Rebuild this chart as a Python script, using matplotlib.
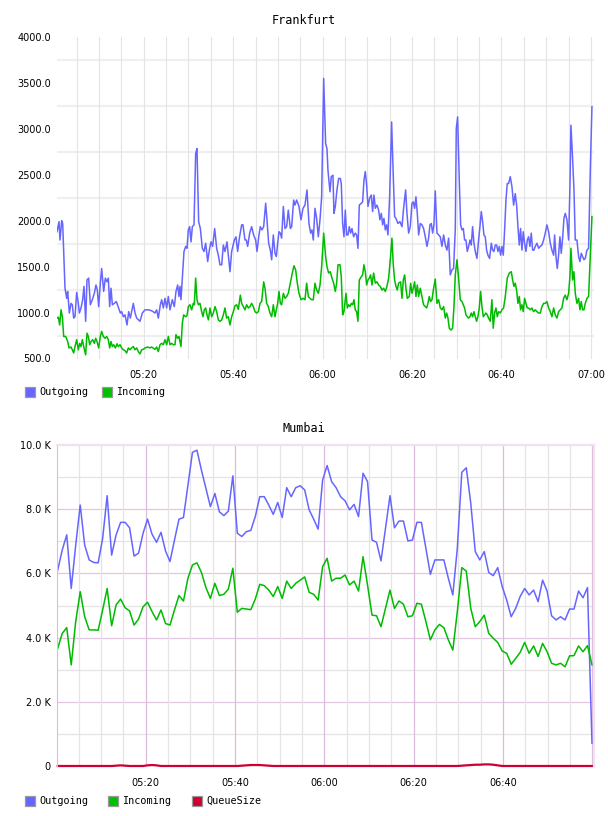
import numpy as np
import matplotlib

matplotlib.use("Agg")
import matplotlib.pyplot as plt
from matplotlib.patches import Rectangle

# ---- Frankfurt: minutes after 05:00 and values ----
fra_out_t = [0.6, 1.05, 1.27, 1.65, 1.87, 2.39, 2.77, 2.99, 3.36, 3.73, 4.03, 4.33, 4.63, 5.0, 5.37, 5.6, 5.97,
             6.34, 6.64, 7.01, 7.31, 7.68, 8.06, 8.5, 8.95, 9.32, 9.62, 9.92, 10.29, 10.59, 11.04, 11.41, 11.78,
             12.08, 12.38, 12.68, 12.98, 13.42, 13.87, 14.77, 15.06, 15.44, 15.81, 16.26, 16.63, 17.0, 17.67,
             18.05, 18.42, 19.16, 19.69, 20.28, 21.03, 21.77, 22.52, 22.89, 23.26, 23.71, 24.01, 24.38, 24.75,
             25.13, 25.5, 25.87, 26.39, 26.84, 27.21, 27.59, 27.88, 28.11, 28.33, 28.56, 29.0, 29.38, 29.67,
             29.97, 30.27, 30.57, 30.87, 31.24, 31.61, 31.91, 32.28, 32.66, 33.1, 33.48, 33.85, 34.3, 34.67,
             35.04, 35.41, 35.86, 36.31, 36.68, 37.05, 37.43, 37.8, 38.17, 38.62, 38.92, 39.29, 39.66, 40.26,
             40.63, 41.0, 41.38, 41.9, 42.2, 42.64, 42.94, 43.24, 43.69, 44.13, 44.58, 45.03, 45.33, 45.77,
             46.07, 46.44, 46.82, 47.27, 47.56, 47.94, 48.31, 48.61, 48.98, 49.35, 49.65, 49.95, 50.25, 50.55,
             50.84, 51.22, 51.59, 51.96, 52.33, 52.78, 53.08, 53.53, 53.82, 54.2, 54.72, 55.17, 55.61, 56.06,
             56.51, 56.95, 57.33, 57.63, 57.92, 58.3, 58.67, 59.04, 59.42, 59.79, 60.24, 60.68, 60.98, 61.2,
             61.65, 61.95, 62.32, 62.54, 62.84, 63.21, 63.59, 63.96, 64.18, 64.48, 64.78, 65.08, 65.38, 65.67,
             65.97, 66.27, 66.57, 66.94, 67.31, 67.61, 67.91, 68.21, 68.66, 68.95, 69.25, 69.55, 69.85, 70.15,
             70.52, 70.89, 71.19, 71.49, 71.79, 72.16, 72.53, 72.83, 73.13, 73.43, 73.72, 74.02, 74.32, 74.62,
             74.99, 75.44, 75.81, 76.11, 76.41, 76.85, 77.3, 77.75, 78.12, 78.57, 78.87, 79.24, 79.61, 79.99,
             80.28, 80.58, 80.88, 81.18, 81.48, 81.85, 82.22, 82.59, 82.97, 83.34, 83.71, 84.01, 84.31, 84.61,
             84.9, 85.2, 85.58, 85.95, 86.32, 86.69, 87.07, 87.44, 87.81, 88.19, 88.56, 88.93, 89.3, 89.68,
             89.9, 90.2, 90.57, 90.87, 91.17, 91.47, 91.76, 92.06, 92.36, 92.66, 92.96, 93.25, 93.55, 93.85,
             94.15, 94.52, 94.89, 95.19, 95.49, 95.79, 96.09, 96.38, 96.68, 96.98, 97.35, 97.73, 98.02, 98.32,
             98.62, 98.92, 99.22, 99.51, 99.81, 100.11, 100.41, 100.71, 101.01, 101.3, 101.6, 101.97, 102.35,
             102.72, 103.09, 103.39, 103.69, 103.99, 104.28, 104.58, 104.88, 105.18, 105.48, 105.78, 106.07,
             106.37, 106.67, 106.97, 107.27, 107.57, 107.94, 108.31, 108.68, 109.06, 109.43, 109.8, 110.17,
             110.55, 110.92, 111.29, 111.67, 111.89, 112.19, 112.49, 112.78, 113.08, 113.38, 113.68, 113.98,
             114.27, 114.65, 115.02, 115.32, 115.54, 115.91, 116.21, 116.51, 116.88, 117.26, 117.55, 117.85,
             118.15, 118.45, 118.75, 119.12, 119.49, 119.87, 120.24]
fra_out_v = [1880, 1990, 1790, 2000, 1970, 1265, 1155, 1230, 995, 1100, 1085, 940, 955, 1220, 1100, 995, 1050,
             1140, 1285, 905, 1355, 1375, 1085, 1140, 1210, 1300, 1245, 1065, 1320, 1480, 1230, 1375, 1335,
             1375, 1065, 1265, 1085, 1100, 1120, 995, 1010, 955, 975, 865, 1010, 940, 1100,
             995, 940, 905, 995, 1030, 1030, 1020, 995, 1030, 940, 1085, 1140, 1050, 1155,
             1050, 1175, 1030, 1140, 1065, 1230, 1300, 1175, 1285, 1140, 1320, 1665, 1720, 1700,
             1900, 1935, 1770, 1935, 1955, 2730, 2785, 1990, 1915, 1700, 1665, 1755, 1555, 1680,
             1770, 1720, 1915, 1700, 1625, 1520, 1520, 1735, 1665, 1770, 1625, 1445, 1665, 1790,
             1825, 1665, 1810, 1955, 1955, 1790, 1790, 1720, 1865, 1935, 1845, 1790, 1665, 1845,
             1935, 1900, 1935, 2190, 2010, 1755, 1680, 1575, 1845, 1645, 1610, 1755, 1880, 1865,
             1810, 2155, 1915, 1935, 2115, 1915, 1935, 2225, 2170, 2225, 2155, 2010, 2135, 2170,
             2335, 1970, 1865, 1900, 1790, 2135, 2025, 1825, 2010, 2260, 3550, 2840, 2785, 2550,
             2315, 2480, 2495, 2080, 2155, 2335, 2460, 2460, 2405, 1970, 1825, 2115, 1845, 1845,
             1935, 1865, 1915, 1825, 1865, 1845, 1700, 2170, 2190, 2205, 2440, 2535, 2390, 2155,
             2245, 2280, 2100, 2280, 2135, 2170, 2115, 2010, 2080, 1955, 2025, 1900, 1955, 1845,
             2260, 3075, 2480, 2045, 2025, 1970, 1990, 1935, 2135, 2335, 2080, 1865, 1935, 2190,
             2205, 2135, 2260, 2080, 1845, 1970, 1955, 1915, 1825, 1720, 1810, 1955, 1970, 1865,
             1955, 2325, 1865, 1845, 1825, 1720, 1845, 1735, 1680, 1810, 1410, 1465, 1480, 1915,
             3005, 3130, 2440, 1955, 1900, 1915, 1790, 1790, 1665, 1720, 1790, 1735, 1935, 1755,
             1665, 1590, 1790, 1935, 2100, 1990, 1845, 1825, 1680, 1625, 1590, 1755, 1680, 1665,
             1735, 1735, 1665, 1720, 1625, 1720, 1625, 1900, 2225, 2405, 2405, 2480, 2370,
             2170, 2295, 2170, 1935, 1735, 1915, 1680, 1880, 1755, 1665, 1790, 1825,
             1720, 1865, 1680, 1680, 1720, 1755, 1700, 1720, 1735, 1790, 1865, 1955,
             1880, 1755, 1680, 1625, 1845, 1610, 1480, 1625, 1825, 1645, 1810, 2025,
             2080, 2010, 1790, 2370, 3040, 2680, 2350, 1790, 1790, 1610, 1555, 1645,
             1610, 1575, 1590, 1680, 1700, 2550, 3240]

fra_in_t = [0.6, 0.9, 1.2, 1.5, 1.8, 2.1, 2.54, 2.99, 3.29, 3.73, 4.03, 4.33, 4.63, 5.0, 5.37, 5.67, 5.97, 6.27,
            6.64, 7.01, 7.31, 7.61, 7.91, 8.21, 8.58, 8.95, 9.25, 9.55, 9.92, 10.29, 10.59, 10.96, 11.34, 11.71,
            12.08, 12.38, 12.68, 12.98, 13.28, 13.65, 14.02, 14.32, 14.69, 15.06, 15.44, 15.81, 16.18, 16.55,
            16.93, 17.3, 17.67, 18.05, 18.42, 18.79, 19.16, 19.54, 19.91, 20.28, 20.88, 21.4, 21.77, 22.22,
            22.52, 22.89, 23.26, 23.64, 24.01, 24.38, 24.75, 25.13, 25.5, 25.87, 26.24, 26.62, 26.99, 27.21,
            27.59, 27.88, 28.33, 28.63, 28.93, 29.38, 29.67, 29.97, 30.34, 30.72, 31.09, 31.31, 31.61, 31.91,
            32.21, 32.58, 32.95, 33.25, 33.55, 33.85, 34.15, 34.45, 34.82, 35.19, 35.56, 35.94, 36.31, 36.68,
            37.05, 37.43, 37.8, 38.17, 38.54, 38.92, 39.29, 39.66, 40.04, 40.41, 40.78, 41.15, 41.6, 41.9,
            42.27, 42.64, 43.02, 43.39, 43.76, 44.13, 44.51, 44.88, 45.25, 45.63, 46.0, 46.37, 46.82, 47.12,
            47.49, 47.86, 48.23, 48.61, 48.98, 49.35, 49.65, 49.95, 50.25, 50.55, 50.84, 51.22, 51.59, 51.96,
            52.33, 52.78, 53.23, 53.6, 53.97, 54.35, 54.72, 55.17, 55.61, 56.06, 56.43, 56.81, 57.18, 57.55,
            57.92, 58.3, 58.67, 59.04, 59.42, 59.79, 60.24, 60.68, 60.98, 61.35, 61.72, 62.1, 62.47, 62.84,
            63.14, 63.44, 63.89, 64.18, 64.48, 64.78, 65.23, 65.53, 65.82, 66.12, 66.42, 66.72, 67.02, 67.31,
            67.61, 67.91, 68.21, 68.66, 68.95, 69.25, 69.55, 69.85, 70.15, 70.44, 70.74, 71.04, 71.41, 71.79,
            72.16, 72.53, 72.9, 73.28, 73.65, 74.02, 74.39, 74.77, 75.14, 75.51, 75.81, 76.11, 76.41, 76.71,
            77.0, 77.45, 77.75, 78.05, 78.35, 78.64, 78.94, 79.39, 79.69, 79.99, 80.28, 80.58, 80.88, 81.18,
            81.48, 81.85, 82.22, 82.59, 82.97, 83.27, 83.56, 83.86, 84.16, 84.46, 84.83, 85.2, 85.58, 85.95,
            86.32, 86.69, 87.07, 87.44, 87.74, 88.04, 88.33, 88.71, 89.08, 89.38, 89.68, 90.05, 90.42, 90.79,
            91.17, 91.47, 91.76, 92.06, 92.36, 92.66, 92.96, 93.25, 93.55, 93.85, 94.15, 94.45, 94.74, 95.04,
            95.34, 95.64, 95.94, 96.24, 96.53, 96.83, 97.13, 97.5, 97.87, 98.17, 98.47, 98.77, 99.07, 99.37,
            99.74, 100.11, 100.48, 100.86, 101.3, 101.75, 102.2, 102.5, 102.79, 103.09, 103.39, 103.69, 103.99,
            104.28, 104.58, 104.88, 105.18, 105.48, 105.78, 106.07, 106.45, 106.82, 107.19, 107.57, 107.94,
            108.31, 108.68, 109.06, 109.43, 109.8, 110.17, 110.55, 110.92, 111.29, 111.67, 112.04, 112.41,
            112.78, 113.16, 113.53, 113.9, 114.27, 114.65, 115.02, 115.32, 115.54, 115.91, 116.21, 116.51,
            116.88, 117.26, 117.55, 117.85, 118.15, 118.45, 118.75, 119.12, 119.49, 119.87, 120.24]
fra_in_v = [940, 950, 865, 1030, 955, 740, 740, 685, 615, 625, 595, 560, 630, 705, 595, 665, 630, 705,
            615, 540, 775, 740, 650, 685, 705, 665, 720, 685, 615, 740, 795, 740, 720, 740,
            705, 615, 685, 630, 650, 615, 660, 630, 650, 615, 595, 585, 560, 615,
            595, 615, 630, 595, 615, 575, 550, 595, 600, 615, 625, 615, 625, 610,
            600, 625, 575, 650, 665, 650, 705, 650, 740, 650, 665, 650, 650, 760,
            720, 740, 630, 885, 975, 955, 965, 1065, 1085, 1030, 1100, 1085, 1375, 1140,
            1085, 1100, 1010, 955, 1030, 1050, 975, 920, 1050, 955, 995, 1065, 1010, 920,
            905, 920, 975, 1050, 940, 955, 865, 955, 1010, 1075, 1085, 1035, 1190, 1100,
            1065, 1030, 1085, 1050, 1065, 1100, 1065, 1010, 995, 1010, 1100, 1120, 1335, 1265,
            1100, 1065, 995, 955, 1085, 955, 1030, 1100, 1230, 1100, 1085, 1210, 1155, 1175,
            1210, 1320, 1430, 1510, 1465, 1320, 1210, 1140, 1155, 1140, 1320, 1175, 1155, 1140,
            1140, 1320, 1245, 1210, 1300, 1500, 1865, 1610, 1500, 1430, 1445, 1375, 1320, 1230,
            1320, 1520, 1520, 1390, 975, 1010, 1210, 1050, 1085, 1065, 1100, 1085, 1140, 1030,
            1010, 905, 1355, 1390, 1410, 1520, 1445, 1300, 1355, 1375, 1410, 1300, 1430, 1320,
            1335, 1300, 1285, 1245, 1265, 1230, 1285, 1375, 1575, 1810, 1520, 1355, 1285, 1245,
            1320, 1335, 1155, 1355, 1410, 1265, 1155, 1175, 1320, 1210, 1265, 1335, 1175, 1300,
            1175, 1265, 1175, 1085, 1065, 1050, 1100, 1175, 1120, 1140, 1265, 1365, 1100, 1140,
            1050, 1030, 1065, 940, 995, 940, 830, 810, 830, 1065, 1410, 1575, 1375, 1140,
            1120, 1085, 1050, 975, 955, 940, 955, 995, 955, 1010, 955, 905, 955, 1050,
            1230, 1065, 955, 975, 995, 975, 940, 905, 1140, 830, 995, 1050, 955, 1010,
            995, 1030, 1050, 1175, 1375, 1430, 1445, 1355, 1285, 1320, 1245, 1100, 1175,
            1030, 1085, 1010, 1155, 1100, 1050, 1050, 1030, 1050, 1010, 1030, 1010,
            995, 995, 1065, 1100, 1100, 1120, 1050, 1010, 955, 1050, 975, 940,
            1010, 1030, 1050, 1155, 1190, 1140, 1210, 1390, 1700, 1355, 1445, 1210,
            1100, 1155, 1030, 1120, 1030, 1030, 1100, 1155, 1175, 1610, 2045]

# ---- Mumbai: one sample per minute, values in thousands ----
mum_out_k = [6.11, 6.73, 7.20, 5.53, 6.88, 8.13, 6.88, 6.42, 6.34, 6.33, 7.09, 8.42, 6.57, 7.20, 7.59, 7.59,
             7.42, 6.54, 6.63, 7.25, 7.69, 7.22, 6.97, 7.28, 6.70, 6.37, 7.04, 7.69, 7.74, 8.75, 9.77, 9.84,
             9.22, 8.65, 8.08, 8.49, 7.92, 7.80, 7.94, 9.04, 7.25, 7.15, 7.30, 7.34, 7.77, 8.39, 8.39, 8.13,
             7.84, 8.21, 7.74, 8.67, 8.39, 8.67, 8.73, 8.60, 7.98, 7.69, 7.38, 8.91, 9.36,
             8.86, 8.67, 8.39, 8.26, 7.98, 8.15, 7.77, 9.12, 8.86, 7.04, 6.97, 6.39, 7.40, 8.42, 7.42, 7.63,
             7.63, 7.01, 7.04, 7.59, 7.59, 6.78, 5.97, 6.42, 6.42, 6.42, 5.85, 5.33, 6.78, 9.15, 9.29, 8.18,
             6.68, 6.42, 6.68, 6.03, 5.93, 6.18, 5.59, 5.17, 4.65, 4.91, 5.28, 5.53, 5.33, 5.48, 5.12, 5.79,
             5.45, 4.68, 4.55, 4.65, 4.55, 4.89, 4.89, 5.45, 5.24, 5.56, 0.71]
mum_in_k = [3.67, 4.13, 4.31, 3.15, 4.50, 5.43, 4.65, 4.24, 4.24, 4.23, 4.86, 5.53, 4.37, 5.02, 5.20, 4.93,
            4.83, 4.39, 4.58, 4.96, 5.10, 4.81, 4.55, 4.86, 4.44, 4.39, 4.86, 5.31, 5.14, 5.85, 6.26, 6.33,
            6.03, 5.56, 5.22, 5.69, 5.31, 5.35, 5.51, 6.16, 4.79, 4.91, 4.89, 4.87, 5.20, 5.66, 5.62, 5.48,
            5.28, 5.59, 5.22, 5.76, 5.53, 5.69, 5.79, 5.89, 5.41, 5.35, 5.17, 6.21, 6.47,
            5.76, 5.85, 5.85, 5.95, 5.64, 5.76, 5.45, 6.52, 5.64, 4.70, 4.68, 4.34, 4.91, 5.48, 4.91, 5.14,
            5.04, 4.65, 4.68, 5.07, 5.04, 4.50, 3.93, 4.24, 4.41, 4.31, 3.93, 3.61, 4.81, 6.18, 6.07, 4.91,
            4.34, 4.50, 4.70, 4.13, 3.98, 3.85, 3.58, 3.51, 3.17, 3.35, 3.54, 3.85, 3.51, 3.74, 3.41, 3.82,
            3.56, 3.20, 3.15, 3.20, 3.09, 3.43, 3.44, 3.74, 3.56, 3.75, 3.15]
mum_queue = [0] * 13 + [10, 20, 10] + [0] * 4 + [20, 30, 20] + [0] * 18 + [10, 20, 30, 30, 30, 20, 10] \
    + [0] * 42 + [10, 20, 30, 40, 40, 50, 50, 40, 20] + [0] * 21

BLUE = "#6666ff"
GREEN = "#00bb00"
RED = "#cc0033"
W, H = 608, 816


def box(x0, y0, x1, y1):
    return [x0 / W, 1 - y1 / H, (x1 - x0) / W, (y1 - y0) / H]


def hhmm(m):
    return "%02d:%02d" % (5 + m // 60, m % 60)


def legend(items, y):
    for x, color, label in items:
        fig.add_artist(Rectangle((x / W, 1 - (y + 5) / H), 10 / W, 10 / H, transform=fig.transFigure,
                                 facecolor=color, edgecolor="#999999", lw=0.9))
        fig.text((x + 14.5) / W, 1 - y / H, label, ha="left", va="center",
                 family="DejaVu Sans Mono", fontsize=7.3)


fig = plt.figure(figsize=(W / 100, H / 100), dpi=100)

# Frankfurt
ax1 = fig.add_axes(box(57, 37, 594, 358.5))
for s in ax1.spines.values():
    s.set_visible(False)
for v in range(750, 4000, 500):
    ax1.axhline(v, color="#efefef", lw=1.6, zorder=0)
for m in range(5, 121, 5):
    ax1.axvline(m, color="#e4e4e4", lw=0.8, zorder=0)
ax1.plot(fra_out_t, fra_out_v, color=BLUE, lw=1.1)
ax1.plot(fra_in_t, fra_in_v, color=GREEN, lw=1.1)
ax1.set_xlim(0.6, 120.7)
ax1.set_ylim(500, 4000)
ax1.set_yticks(range(500, 4001, 500), ["%.1f" % v for v in range(500, 4001, 500)])
ax1.set_xticks(range(20, 121, 20), [hhmm(m) for m in range(20, 121, 20)])
ax1.tick_params(length=0, labelsize=7, pad=4.5)
ax1.tick_params(axis="x", pad=8)

# Mumbai
t_mum = np.linspace(0.3, 119.9, len(mum_out_k))
ax2 = fig.add_axes(box(57, 445, 594, 766))
for v in range(1000, 10000, 1000):
    ax2.axhline(v, color="#e2c6e2" if v % 2000 == 0 else "#e4e4e4", lw=0.9, zorder=0)
for m in range(5, 121, 5):
    ax2.axvline(m, color="#dcbcdc" if m % 20 == 0 else "#e4e4e4", lw=0.9, zorder=0)
ax2.spines["left"].set_color("#dcbcdc")
for k in ("top", "right"):
    ax2.spines[k].set_color("#f0e0f0")
    ax2.spines[k].set_linewidth(1.6)
ax2.spines["bottom"].set_visible(False)
ax2.plot(t_mum, np.array(mum_out_k) * 1000, color=BLUE, lw=1.1)
ax2.plot(t_mum, np.array(mum_in_k) * 1000, color=GREEN, lw=1.1)
ax2.plot(t_mum, mum_queue, color=RED, lw=1.6, clip_on=False)
ax2.set_xlim(0.13, 120.35)
ax2.set_ylim(0, 10000)
ax2.set_yticks(range(0, 10001, 2000), ["0"] + ["%.1f K" % (v / 1000) for v in range(2000, 10001, 2000)])
ax2.set_xticks(range(20, 101, 20), [hhmm(m) for m in range(20, 101, 20)])
ax2.tick_params(length=0, labelsize=7, pad=4.5)
ax2.tick_params(axis="x", pad=9)

fig.text(304 / W, 1 - 20 / H, "Frankfurt", ha="center", va="center", family="DejaVu Sans Mono", fontsize=8.5)
fig.text(304 / W, 1 - 428.5 / H, "Mumbai", ha="center", va="center", family="DejaVu Sans Mono", fontsize=8.5)

legend([(24.5, BLUE, "Outgoing"), (102, "#00c000", "Incoming")], 392)
legend([(24.5, BLUE, "Outgoing"), (108, "#00c000", "Incoming"), (192, RED, "QueueSize")], 800.5)

fig.savefig("out.png", dpi=100)
